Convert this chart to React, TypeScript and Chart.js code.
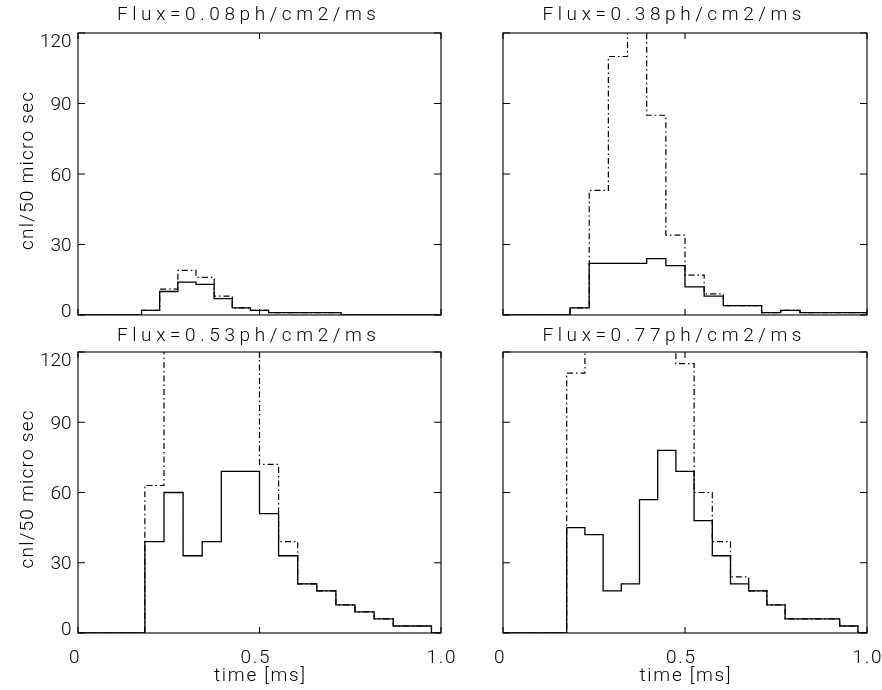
import { useEffect, useRef } from 'react';
import { Chart, registerables } from 'chart.js';

Chart.register(...registerables);

// Time bins (ms): 50 µs grid and the 20-point grid spanning 0..1 ms
const timeFine = [0, 0.05, 0.1, 0.15, 0.2, 0.25, 0.3, 0.35, 0.4, 0.45, 0.5, 0.55, 0.6, 0.65, 0.7, 0.75, 0.8, 0.85, 0.9, 0.95, 1.0];
const timeCoarse = [0, 0.0526, 0.1053, 0.1579, 0.2105, 0.2632, 0.3158, 0.3684, 0.4211, 0.4737, 0.5263, 0.5789, 0.6316, 0.6842, 0.7368, 0.7895, 0.8421, 0.8947, 0.9474, 1.0];

// Counts per bin: solid = detected, dash-dot = incident
const flux008Solid = [0, 0, 0, 0, 2, 10, 14, 13, 7, 3, 2, 1, 1, 1, 1, 0, 0, 0, 0, 0, 0];
const flux008Dash = [0, 0, 0, 0, 2, 11, 19, 16, 8, 3, 2, 1, 1, 1, 1, 0, 0, 0, 0, 0, 0];

const flux038Solid = [0, 0, 0, 0, 3, 22, 22, 22, 24, 21, 12, 8, 4, 4, 1, 2, 1, 1, 1, 1];
const flux038Dash = [0, 0, 0, 0, 3, 53, 110, 150, 85, 34, 17, 9, 4, 4, 1, 2, 1, 1, 1, 1];

const flux053Solid = [0, 0, 0, 0, 39, 60, 33, 39, 69, 69, 51, 33, 21, 18, 12, 9, 6, 3, 3, 0];
const flux053Dash = [0, 0, 0, 0, 63, 140, 165, 180, 170, 150, 72, 39, 21, 18, 12, 9, 6, 3, 3, 0];

const flux077Solid = [0, 0, 0, 0, 45, 42, 18, 21, 57, 78, 69, 48, 33, 21, 18, 12, 6, 6, 6, 3, 0];
const flux077Dash = [0, 0, 0, 0, 111, 150, 160, 175, 190, 170, 115, 60, 39, 24, 18, 12, 6, 6, 6, 3, 0];

const panelTitles = ['Flux=0.08ph/cm2/ms', 'Flux=0.38ph/cm2/ms', 'Flux=0.53ph/cm2/ms', 'Flux=0.77ph/cm2/ms'];
const yTickValues = [0, 30, 60, 90, 120];
const yTickText = ['0', '30', '60', '90', '120'];
const xTickValues = [0, 0.5, 1.0];
const xTickText = ['0', '0.5', '1.0'];
const yAxisTitle = 'cnl/50 micro sec';
const xAxisTitle = 'time [ms]';

const PAGE_W = 882;
const PAGE_H = 690;
const FONT = '300 19px Roboto, "DejaVu Sans", sans-serif';

type Panel = {
  title: string;
  times: number[];
  solid: number[];
  dash: number[];
  area: { left: number; top: number; right: number; bottom: number };
  titleBaseline: number;
  yLabels: boolean;
  xLabels: boolean;
};

const panels: Panel[] = [
  { title: panelTitles[0], times: timeFine, solid: flux008Solid, dash: flux008Dash,
    area: { left: 78, top: 33, right: 441, bottom: 315 }, titleBaseline: 19.5, yLabels: true, xLabels: false },
  { title: panelTitles[1], times: timeCoarse, solid: flux038Solid, dash: flux038Dash,
    area: { left: 503, top: 33, right: 867, bottom: 315 }, titleBaseline: 19.5, yLabels: false, xLabels: false },
  { title: panelTitles[2], times: timeCoarse, solid: flux053Solid, dash: flux053Dash,
    area: { left: 78, top: 352, right: 441, bottom: 633 }, titleBaseline: 340.8, yLabels: true, xLabels: true },
  { title: panelTitles[3], times: timeFine, solid: flux077Solid, dash: flux077Dash,
    area: { left: 503, top: 352, right: 867, bottom: 633 }, titleBaseline: 340.8, yLabels: false, xLabels: true },
];

// Draws text left-aligned from x, spread out so that it spans the given width
function spreadText(ctx: CanvasRenderingContext2D, text: string, x: number, y: number, width: number) {
  ctx.letterSpacing = '0px';
  const natural = ctx.measureText(text).width;
  const gap = text.length > 1 ? Math.max(0, (width - natural) / (text.length - 1)) : 0;
  ctx.letterSpacing = `${gap}px`;
  ctx.textAlign = 'left';
  ctx.fillText(text, x, y);
  ctx.letterSpacing = '0px';
}

// Frame, inward ticks and all labels in the plotting-package style
function framePlugin(panel: Panel) {
  return {
    id: 'frame',
    afterDraw(chart: any) {
      const { ctx, chartArea: a, scales } = chart;
      const xs = scales.x;
      const ys = scales.y;
      ctx.save();
      ctx.strokeStyle = '#000';
      ctx.lineWidth = 1.1;
      ctx.strokeRect(a.left, a.top, a.right - a.left, a.bottom - a.top);
      ctx.beginPath();
      yTickValues.forEach((v) => {
        const y = ys.getPixelForValue(v);
        ctx.moveTo(a.left, y);
        ctx.lineTo(a.left + 7, y);
        ctx.moveTo(a.right, y);
        ctx.lineTo(a.right - 7, y);
      });
      xTickValues.forEach((v) => {
        const x = xs.getPixelForValue(v);
        ctx.moveTo(x, a.bottom);
        ctx.lineTo(x, a.bottom - 6);
        ctx.moveTo(x, a.top);
        ctx.lineTo(x, a.top + 6);
      });
      ctx.stroke();

      ctx.fillStyle = '#000';
      ctx.font = FONT;
      ctx.textBaseline = 'alphabetic';

      // panel title
      const titleW = 259;
      spreadText(ctx, panel.title, (a.left + a.right) / 2 - 13 - titleW / 2, panel.titleBaseline, titleW);

      // y tick labels and axis title
      if (panel.yLabels) {
        ctx.textAlign = 'right';
        ctx.letterSpacing = '0px';
        yTickValues.forEach((v, i) => {
          const y = Math.min(Math.max(ys.getPixelForValue(v), a.top + 7), a.bottom - 5);
          ctx.fillText(yTickText[i], a.left - 6.5, y + 6.7);
        });
        const yTitleW = 158;
        ctx.save();
        ctx.translate(33, (a.top + a.bottom) / 2 - 3);
        ctx.rotate(-Math.PI / 2);
        spreadText(ctx, yAxisTitle, -yTitleW / 2, 0, yTitleW);
        ctx.restore();
      }

      // x tick labels and axis title
      if (panel.xLabels) {
        xTickValues.forEach((v, i) => {
          const x = xs.getPixelForValue(v);
          const shift = i === xTickValues.length - 1 ? 0 : -4.5;
          const w = xTickText[i].length > 1 ? 29 : 9;
          spreadText(ctx, xTickText[i], x + shift - w / 2, a.bottom + 30, w);
        });
        const xTitleW = 91;
        spreadText(ctx, xAxisTitle, (a.left + a.right) / 2 - xTitleW / 2, a.bottom + 48, xTitleW);
      }
      ctx.restore();
    },
  };
}

function PanelChart({ panel }: { panel: Panel }) {
  const ref = useRef<HTMLCanvasElement | null>(null);
  useEffect(() => {
    if (!ref.current) return;
    const toPoints = (vals: number[]) => panel.times.map((t, i) => ({ x: t, y: vals[i] }));
    const chart = new Chart(ref.current, {
      type: 'line',
      data: {
        datasets: [
          {
            data: toPoints(panel.solid),
            stepped: 'middle',
            borderColor: '#000',
            borderWidth: 1.3,
            pointRadius: 0,
            fill: false,
          },
          {
            data: toPoints(panel.dash),
            stepped: 'middle',
            borderColor: '#000',
            borderWidth: 1.2,
            borderDash: [6, 3, 1.5, 3],
            pointRadius: 0,
            fill: false,
          },
        ],
      },
      options: {
        animation: false,
        responsive: false,
        devicePixelRatio: 1,
        events: [],
        layout: {
          padding: {
            left: panel.area.left,
            top: panel.area.top,
            right: PAGE_W - panel.area.right,
            bottom: PAGE_H - panel.area.bottom,
          },
        },
        plugins: {
          legend: { display: false },
          tooltip: { enabled: false },
          title: { display: false },
        },
        scales: {
          x: { type: 'linear', min: 0, max: 1, display: false },
          y: { type: 'linear', min: 0, max: 120, display: false },
        },
      },
      plugins: [framePlugin(panel)],
    } as any);
    return () => chart.destroy();
  }, [panel]);
  return (
    <canvas
      ref={ref}
      width={PAGE_W}
      height={PAGE_H}
      style={{ position: 'absolute', left: 0, top: 0, width: PAGE_W, height: PAGE_H }}
    />
  );
}

export default function App() {
  return (
    <div style={{ position: 'absolute', left: 0, top: 0, width: PAGE_W, height: PAGE_H, background: '#fff' }}>
      {panels.map((p) => (
        <PanelChart key={p.title} panel={p} />
      ))}
    </div>
  );
}
